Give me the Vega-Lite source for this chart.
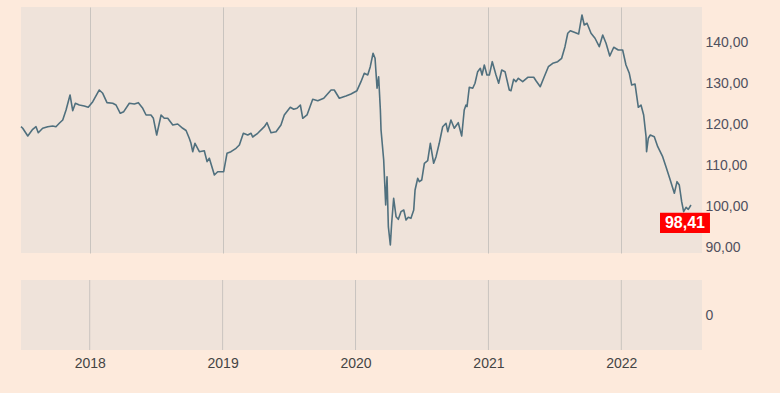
{
  "$schema": "https://vega.github.io/schema/vega-lite/v6.json",
  "background": "#fdeadc",
  "padding": {"left": 20, "top": 7, "right": 32, "bottom": 25},
  "config": {
    "font": "Liberation Sans",
    "view": {"fill": "#efe3da", "stroke": null},
    "axis": {"labelFont": "Liberation Sans", "labelFontSize": 14, "labelColor": "#50505e", "gridColor": "#c9c4bf", "gridWidth": 1, "domain": false, "ticks": false, "title": null}
  },
  "datasets": {
    "series": [
{"t":2017.483,"v":119.47},{"t":2017.496,"v":119.08},{"t":2017.534,"v":117.2},{"t":2017.571,"v":118.83},{"t":2017.596,"v":119.47},{"t":2017.613,"v":118.0},{"t":2017.646,"v":119.08},{"t":2017.684,"v":119.47},{"t":2017.722,"v":119.64},{"t":2017.746,"v":119.47},{"t":2017.771,"v":120.3},{"t":2017.797,"v":121.11},{"t":2017.822,"v":123.55},{"t":2017.852,"v":127.22},{"t":2017.872,"v":123.38},{"t":2017.892,"v":125.19},{"t":2017.922,"v":124.77},{"t":2017.959,"v":124.53},{"t":2017.989,"v":124.21},{"t":2018.023,"v":125.58},{"t":2018.072,"v":128.44},{"t":2018.098,"v":127.63},{"t":2018.13,"v":125.34},{"t":2018.173,"v":125.19},{"t":2018.198,"v":124.77},{"t":2018.23,"v":122.75},{"t":2018.256,"v":123.14},{"t":2018.298,"v":125.19},{"t":2018.336,"v":125.02},{"t":2018.366,"v":125.34},{"t":2018.399,"v":123.97},{"t":2018.424,"v":122.33},{"t":2018.461,"v":122.33},{"t":2018.479,"v":121.52},{"t":2018.504,"v":117.44},{"t":2018.537,"v":122.33},{"t":2018.561,"v":121.52},{"t":2018.587,"v":121.52},{"t":2018.625,"v":119.89},{"t":2018.662,"v":120.13},{"t":2018.7,"v":119.08},{"t":2018.725,"v":118.54},{"t":2018.749,"v":116.64},{"t":2018.762,"v":115.41},{"t":2018.775,"v":113.36},{"t":2018.792,"v":115.41},{"t":2018.825,"v":113.36},{"t":2018.862,"v":113.6},{"t":2018.883,"v":110.92},{"t":2018.9,"v":111.75},{"t":2018.938,"v":107.67},{"t":2018.963,"v":108.47},{"t":2019.008,"v":108.47},{"t":2019.033,"v":112.97},{"t":2019.063,"v":113.36},{"t":2019.101,"v":114.19},{"t":2019.126,"v":115.0},{"t":2019.156,"v":117.86},{"t":2019.189,"v":117.44},{"t":2019.214,"v":117.86},{"t":2019.226,"v":116.95},{"t":2019.264,"v":117.86},{"t":2019.314,"v":119.47},{"t":2019.334,"v":120.45},{"t":2019.364,"v":118.0},{"t":2019.402,"v":118.25},{"t":2019.439,"v":119.89},{"t":2019.464,"v":122.33},{"t":2019.509,"v":124.21},{"t":2019.535,"v":123.72},{"t":2019.56,"v":123.97},{"t":2019.585,"v":124.77},{"t":2019.603,"v":121.52},{"t":2019.635,"v":122.33},{"t":2019.678,"v":126.17},{"t":2019.716,"v":125.82},{"t":2019.761,"v":126.41},{"t":2019.816,"v":128.44},{"t":2019.84,"v":128.44},{"t":2019.878,"v":126.41},{"t":2019.928,"v":126.97},{"t":2019.966,"v":127.46},{"t":2020.011,"v":128.27},{"t":2020.041,"v":130.47},{"t":2020.066,"v":132.52},{"t":2020.092,"v":132.11},{"t":2020.111,"v":134.13},{"t":2020.132,"v":137.41},{"t":2020.147,"v":136.19},{"t":2020.162,"v":128.86},{"t":2020.174,"v":131.69},{"t":2020.187,"v":123.55},{"t":2020.192,"v":118.66},{"t":2020.212,"v":111.33},{"t":2020.227,"v":100.33},{"t":2020.237,"v":107.25},{"t":2020.247,"v":95.03},{"t":2020.262,"v":90.56},{"t":2020.272,"v":95.86},{"t":2020.287,"v":101.97},{"t":2020.305,"v":97.47},{"t":2020.322,"v":96.84},{"t":2020.342,"v":98.7},{"t":2020.363,"v":99.11},{"t":2020.38,"v":96.67},{"t":2020.397,"v":97.33},{"t":2020.417,"v":97.08},{"t":2020.438,"v":99.11},{"t":2020.448,"v":104.0},{"t":2020.468,"v":106.86},{"t":2020.48,"v":106.03},{"t":2020.498,"v":106.44},{"t":2020.518,"v":110.53},{"t":2020.543,"v":111.16},{"t":2020.563,"v":115.41},{"t":2020.588,"v":110.53},{"t":2020.606,"v":112.14},{"t":2020.63,"v":115.41},{"t":2020.643,"v":117.44},{"t":2020.656,"v":119.47},{"t":2020.681,"v":120.3},{"t":2020.694,"v":118.25},{"t":2020.718,"v":121.11},{"t":2020.743,"v":119.08},{"t":2020.773,"v":120.45},{"t":2020.799,"v":117.2},{"t":2020.818,"v":123.55},{"t":2020.831,"v":124.77},{"t":2020.839,"v":124.36},{"t":2020.856,"v":129.1},{"t":2020.882,"v":128.86},{"t":2020.899,"v":130.08},{"t":2020.919,"v":132.91},{"t":2020.939,"v":133.74},{"t":2020.952,"v":132.11},{"t":2020.969,"v":134.55},{"t":2020.989,"v":132.11},{"t":2021.007,"v":132.11},{"t":2021.029,"v":135.36},{"t":2021.057,"v":132.11},{"t":2021.077,"v":130.08},{"t":2021.1,"v":133.33},{"t":2021.125,"v":132.91},{"t":2021.157,"v":128.44},{"t":2021.17,"v":128.27},{"t":2021.19,"v":131.05},{"t":2021.207,"v":130.47},{"t":2021.225,"v":131.3},{"t":2021.258,"v":130.47},{"t":2021.296,"v":131.54},{"t":2021.341,"v":131.54},{"t":2021.358,"v":130.71},{"t":2021.39,"v":129.25},{"t":2021.42,"v":131.69},{"t":2021.451,"v":134.13},{"t":2021.484,"v":134.97},{"t":2021.521,"v":135.36},{"t":2021.551,"v":136.19},{"t":2021.576,"v":139.02},{"t":2021.597,"v":142.3},{"t":2021.616,"v":142.93},{"t":2021.646,"v":142.54},{"t":2021.679,"v":142.13},{"t":2021.704,"v":146.77},{"t":2021.721,"v":144.33},{"t":2021.742,"v":144.74},{"t":2021.772,"v":142.3},{"t":2021.802,"v":141.08},{"t":2021.834,"v":139.02},{"t":2021.86,"v":141.88},{"t":2021.885,"v":139.85},{"t":2021.913,"v":136.75},{"t":2021.943,"v":138.88},{"t":2021.977,"v":138.22},{"t":2022.01,"v":138.22},{"t":2022.035,"v":134.55},{"t":2022.06,"v":132.52},{"t":2022.078,"v":129.66},{"t":2022.103,"v":129.91},{"t":2022.128,"v":124.21},{"t":2022.148,"v":124.77},{"t":2022.168,"v":122.33},{"t":2022.186,"v":117.03},{"t":2022.19,"v":113.36},{"t":2022.203,"v":116.64},{"t":2022.218,"v":117.44},{"t":2022.248,"v":117.03},{"t":2022.274,"v":114.58},{"t":2022.311,"v":112.14},{"t":2022.336,"v":109.69},{"t":2022.368,"v":106.44},{"t":2022.399,"v":103.19},{"t":2022.419,"v":106.03},{"t":2022.436,"v":105.22},{"t":2022.454,"v":101.14},{"t":2022.469,"v":98.7},{"t":2022.487,"v":99.77},{"t":2022.504,"v":99.28},{"t":2022.524,"v":100.33}
    ],
    "last": [
      {"t1": 2022.291, "t2": 2022.667, "v1": 98.41, "v2": 93.49, "tc": 2022.479, "vc": 95.95, "label": "98,41"}
    ],
    "years": [{"year": 2018}, {"year": 2019}, {"year": 2020}, {"year": 2021}, {"year": 2022}]
  },
  "spacing": 24,
  "vconcat": [
    {
      "width": 681,
      "height": 246,
      "layer": [
        {
          "data": {"name": "series"},
          "mark": {"type": "line", "color": "#50707e", "strokeWidth": 1.6, "strokeJoin": "round"},
          "encoding": {
            "x": {"field": "t", "type": "quantitative", "scale": {"domain": [2017.483, 2022.607], "nice": false, "zero": false},
                  "axis": {"values": [2018, 2019, 2020, 2021, 2022], "labels": false, "grid": true, "orient": "bottom"}},
            "y": {"field": "v", "type": "quantitative", "scale": {"domain": [88.6, 148.72], "nice": false, "zero": false},
                  "axis": {"orient": "right", "values": [90, 100, 110, 120, 130, 140], "grid": false, "labelPadding": 3,
                           "labelExpr": "replace(format(datum.value, '.2f'), '.', ',')"}}
          }
        },
        {
          "data": {"name": "last"},
          "mark": {"type": "rect", "color": "#ff0000"},
          "encoding": {
            "x": {"field": "t1", "type": "quantitative"},
            "x2": {"field": "t2"},
            "y": {"field": "v1", "type": "quantitative"},
            "y2": {"field": "v2"}
          }
        },
        {
          "data": {"name": "last"},
          "mark": {"type": "text", "color": "#ffffff", "fontWeight": "bold", "fontSize": 16, "align": "center", "baseline": "middle", "font": "Liberation Sans"},
          "encoding": {
            "x": {"field": "tc", "type": "quantitative"},
            "y": {"field": "vc", "type": "quantitative"},
            "text": {"field": "label"}
          }
        }
      ]
    },
    {
      "width": 681,
      "height": 70,
      "data": {"name": "years"},
      "mark": {"type": "rule", "color": "#c9c4bf", "strokeWidth": 1},
      "encoding": {
        "x": {"field": "year", "type": "quantitative", "scale": {"domain": [2017.483, 2022.607], "nice": false, "zero": false},
              "axis": {"values": [2018, 2019, 2020, 2021, 2022], "format": "d", "grid": false, "orient": "bottom", "labelPadding": 6, "labelColor": "#444444"}},
        "y": {"datum": -1, "type": "quantitative", "scale": {"domain": [-1, 1], "nice": false},
              "axis": {"orient": "right", "values": [0], "grid": false, "labelPadding": 3}},
        "y2": {"datum": 1}
      }
    }
  ]
}
